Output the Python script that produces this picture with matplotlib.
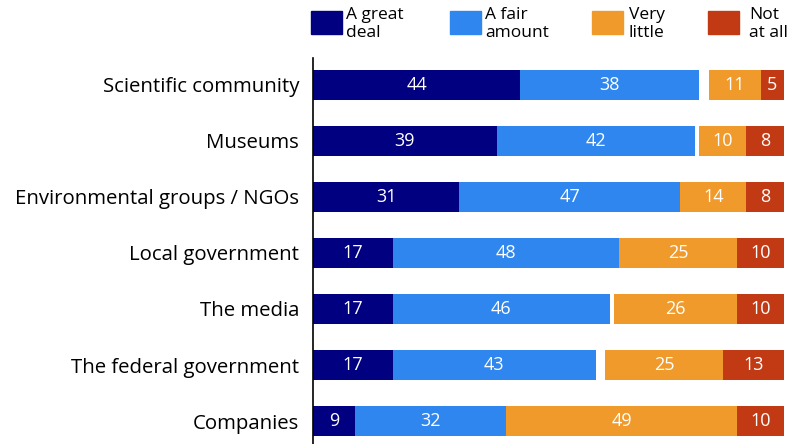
import numpy as np
import matplotlib.pyplot as plt
from matplotlib.patches import Rectangle

plt.rcParams['font.family'] = ['Open Sans', 'DejaVu Sans']

categories = ['Scientific community', 'Museums', 'Environmental groups / NGOs',
              'Local government', 'The media', 'The federal government', 'Companies']
great_deal = [44, 39, 31, 17, 17, 17, 9]
fair_amount = [38, 42, 47, 48, 46, 43, 32]
very_little = [11, 10, 14, 25, 26, 25, 49]
not_at_all = [5, 8, 8, 10, 10, 13, 10]
series_names = ['A great\ndeal', 'A fair\namount', 'Very\nlittle', 'Not\nat all']
colors = ['#000080', '#2e86ee', '#f09a2b', '#c23a14']

fig = plt.figure(figsize=(8.04, 4.44), dpi=100)
ax = fig.add_axes([313 / 804, 0, 472 / 804, 1 - 58 / 444])

y = np.arange(len(categories))
h = 0.54

great = np.array(great_deal)
fair = np.array(fair_amount)
little = np.array(very_little)
notall = np.array(not_at_all)

# positive side starts at 0, negative side ends at 100
segments = [
    (np.zeros(len(y)), great, colors[0]),
    (great, fair, colors[1]),
    (100 - notall - little, little, colors[2]),
    (100 - notall, notall, colors[3]),
]
for left, width, c in segments:
    ax.barh(y, width, left=left, height=h, color=c, linewidth=0)
    for yi, l, w in zip(y, left, width):
        ax.text(l + w / 2, yi, str(int(w)), ha='center', va='center',
                color='white', fontsize=13)

ax.set_xlim(0, 100.2)
ax.set_ylim(len(categories) - 1 + 0.41, -0.48)
ax.set_yticks(y)
ax.set_yticklabels(categories, fontsize=14.7)
ax.tick_params(axis='y', length=0, pad=10)
ax.set_xticks([])
for s in ['top', 'right', 'bottom']:
    ax.spines[s].set_visible(False)
ax.spines['left'].set_linewidth(1.2)

# legend
leg_x = [311, 450, 592, 708]
text_x = [346, 485, 629, 749]
for lx, tx, name, c in zip(leg_x, text_x, series_names, colors):
    fig.patches.append(Rectangle((lx / 804, 1 - 34 / 444), 31 / 804, 23 / 444,
                                 transform=fig.transFigure, color=c))
    fig.text(tx / 804, 1 - 7 / 444, name, ha='left', va='top', fontsize=12.5,
             linespacing=1.2)

fig.savefig('out.png', dpi=100)
